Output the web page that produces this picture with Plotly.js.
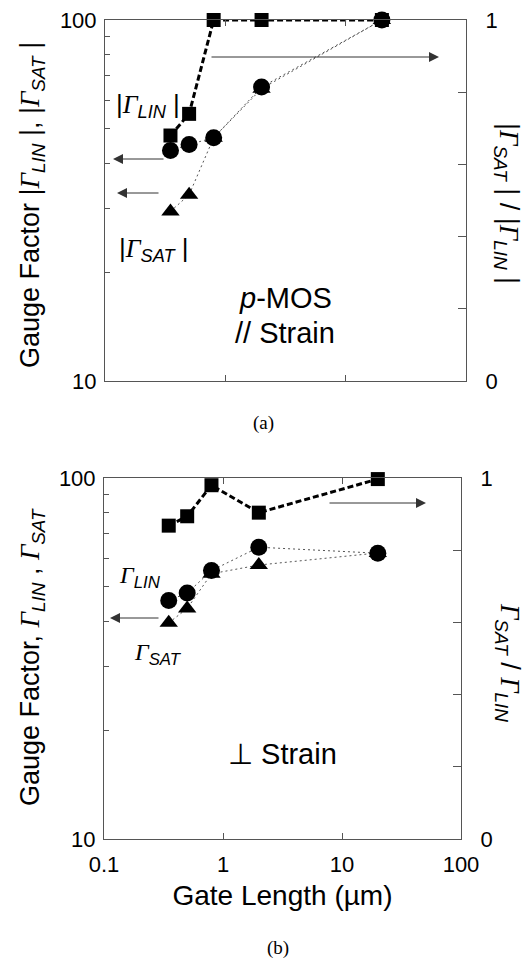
<!DOCTYPE html>
<html>
<head>
<meta charset="utf-8">
<script src="https://cdn.plot.ly/plotly-3.0.1.min.js"></script>
<style>html,body{margin:0;padding:0;background:#fff;}#chart{width:525px;height:962px;}</style>
</head>
<body>
<div id="chart"></div>
<script>
// ---- data ----
const gateLength = [0.35, 0.5, 0.8, 2, 20];          // µm
// (a) p-MOS, // strain
const linA   = [43.5, 45.2, 47.2, 65.2, 100];
const satA   = [29.5, 32.8, 47.2, 64.5, 100];
const ratioA = [0.68, 0.74, 1.0, 1.0, 1.0];
// (b) perpendicular strain
const linB   = [45.8, 48.0, 55.4, 64.3, 61.9];
const satB   = [39.7, 43.5, 54.3, 57.4, 62.0];
const ratioB = [0.868, 0.894, 0.98, 0.904, 0.997];
// tick labels
const xTickVals = [0.1, 1, 10, 100];
const xTickText = ['0.1', '1', '10', '100'];
const gfTickVals = [10, 100];
const gfTickText = ['10', '100'];
const gfMinorVals = [20, 30, 40, 50, 60, 70, 80, 90];
const rTickVals = [0, 1];
const rTickText = ['0', '1'];
const rMinorVals = [0.2, 0.4, 0.6, 0.8];

// ---- layout helpers ----
const W = 525, H = 962;
const px = x => x / W;
const py = y => 1 - y / H;
const FONT = 'Liberation Sans, Arial, sans-serif';
const LC = '#555';
const G = '<span style="font-family:Liberation Serif">Γ</span>';

const dotLine = {color: '#555', width: 1, dash: '2px,3px'};
const dashLine = {color: '#000', width: 3, dash: '6px,3px'};

function traces(xa, yr, yg, lin, sat, ratio) {
  return [
    {x: gateLength, y: ratio, xaxis: xa, yaxis: yr, mode: 'lines+markers', cliponaxis: false,
     line: dashLine, marker: {symbol: 'square', size: 14, color: '#000'}, name: 'ratio'},
    {x: gateLength, y: sat, xaxis: xa, yaxis: yg, mode: 'lines+markers', cliponaxis: false,
     line: dotLine, marker: {symbol: 'triangle-up', size: 16, color: '#000'}, name: 'SAT'},
    {x: gateLength, y: lin, xaxis: xa, yaxis: yg, mode: 'lines+markers', cliponaxis: false,
     line: dotLine, marker: {symbol: 'circle', size: 17, color: '#000'}, name: 'LIN'}
  ];
}

const data = [].concat(
  traces('x', 'y', 'y2', linA, satA, ratioA),
  traces('x2', 'y3', 'y4', linB, satB, ratioB)
);

function xAxis(domain, anchor, labels) {
  return {domain: domain, anchor: anchor, type: 'log', range: [-1, 2],
    tickvals: xTickVals, ticktext: xTickText, showticklabels: labels,
    ticks: 'inside', ticklen: 6, tickcolor: LC, showline: true, linecolor: LC, linewidth: 1,
    mirror: 'ticks', showgrid: false, zeroline: false,
    tickfont: {family: FONT, size: 22, color: '#000'}, ticklabelstandoff: 6};
}
function rAxis(domain, anchor) {
  return {domain: domain, anchor: anchor, side: 'right', range: [0, 1],
    tickvals: rTickVals, ticktext: rTickText, ticks: 'inside', ticklen: 8, tickcolor: LC,
    minor: {tickvals: rMinorVals, ticks: 'inside', ticklen: 8, tickcolor: LC, showgrid: false},
    showline: true, linecolor: LC, linewidth: 1, showgrid: false, zeroline: false,
    tickfont: {family: FONT, size: 22, color: '#000'}, ticklabelstandoff: 14};
}
function gAxis(over, anchor) {
  return {overlaying: over, anchor: anchor, side: 'left', type: 'log', range: [1, 2],
    tickvals: gfTickVals, ticktext: gfTickText, ticks: 'inside', ticklen: 5, tickcolor: LC,
    minor: {tickvals: gfMinorVals, ticks: 'inside', ticklen: 5, tickcolor: LC, showgrid: false},
    showline: true, linecolor: LC, linewidth: 1, showgrid: false, zeroline: false,
    tickfont: {family: FONT, size: 22, color: '#000'}, ticklabelstandoff: 3};
}

function arrow(hx, hy, tx, ty) {
  return {xref: 'paper', yref: 'paper', x: px(hx), y: py(hy), ax: tx - hx, ay: ty - hy,
    text: '', showarrow: true, arrowhead: 2, arrowsize: 2, arrowwidth: 1, arrowcolor: '#333', standoff: 0};
}
function label(x, y, text, size, angle, family) {
  return {xref: 'paper', yref: 'paper', x: px(x), y: py(y), text: text,
    showarrow: false, textangle: angle || 0, xanchor: 'center', yanchor: 'middle',
    font: {family: family || FONT, size: size, color: '#000'}};
}

const annotations = [
  // (a)
  arrow(439, 57, 210, 57),
  arrow(113, 159, 165, 159),
  arrow(117, 193, 160, 193),
  label(148, 106, '|<i>' + G + '<sub>LIN</sub></i> |', 26),
  label(154, 250, '|<i>' + G + '<sub>SAT</sub></i> |', 26),
  label(285, 298, '<i>p</i>-MOS', 29),
  label(285, 333, '// Strain', 29),
  label(32, 205, 'Gauge Factor |<i>' + G + '<sub>LIN</sub></i> |, |<i>' + G + '<sub>SAT</sub></i> |', 27, -90),
  label(507, 203, '|<i>' + G + '<sub>SAT</sub></i> | / |<i>' + G + '<sub>LIN</sub></i> |', 27, 90),
  label(263, 423, '(a)', 19, 0, 'Liberation Serif, serif'),
  // (b)
  arrow(426, 503, 328, 503),
  arrow(110, 618, 160, 618),
  label(140, 577, '<i>' + G + '<sub>LIN</sub></i>', 24),
  label(158, 654, '<i>' + G + '<sub>SAT</sub></i>', 24),
  label(282, 754, '⊥ Strain', 29),
  label(32, 657, 'Gauge Factor, <i>' + G + '<sub>LIN</sub></i> , <i>' + G + '<sub>SAT</sub></i>', 27, -90),
  label(508, 662, '<i>' + G + '<sub>SAT</sub></i> / <i>' + G + '<sub>LIN</sub></i>', 27, 90),
  label(278, 948, '(b)', 19, 0, 'Liberation Serif, serif')
];

const xa2 = xAxis([px(104), px(461)], 'y3', true);
xa2.title = {text: 'Gate Length (µm)', font: {family: FONT, size: 28, color: '#000'}, standoff: 8};

const layout = {
  width: W, height: H,
  margin: {l: 0, r: 0, t: 0, b: 0},
  paper_bgcolor: '#fff', plot_bgcolor: '#fff',
  showlegend: false,
  font: {family: FONT, color: '#000'},
  xaxis: xAxis([px(105), px(466)], 'y', false),
  yaxis: rAxis([py(381), py(20)], 'x'),
  yaxis2: gAxis('y', 'x'),
  xaxis2: xa2,
  yaxis3: rAxis([py(839), py(478)], 'x2'),
  yaxis4: gAxis('y3', 'x2'),
  annotations: annotations
};

Plotly.newPlot('chart', data, layout, {staticPlot: true, displayModeBar: false});
</script>
</body>
</html>
